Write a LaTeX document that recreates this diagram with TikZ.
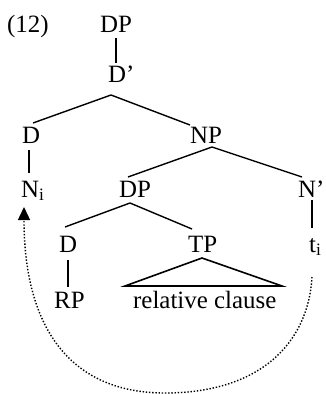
\documentclass[tikz,border=0pt]{standalone}
\usepackage{fontspec}
\setmainfont{Liberation Serif}
\usetikzlibrary{calc,arrows.meta}
\begin{document}
\begin{tikzpicture}[x=1pt,y=-1pt,
  lbl/.style={inner sep=0pt,anchor=base west,font=\fontsize{24.9}{30}\selectfont},
  edge/.style={line width=1.4pt},
  tri/.style={line width=1.6pt,line join=miter},
  move/.style={line width=1.4pt,dash pattern=on 1.4pt off 1.8pt,-{Triangle[length=13pt,width=12pt]}}]
\useasboundingbox (0,0) rectangle (325,394);
% labels
\node[lbl] (ex)   at (7,32)   {(12)};
\node[lbl] (dp1)  at (100,32) {DP};
\node[lbl] (dbar) at (108,82) {D’};
\node[lbl] (d1)   at (22,143) {D};
\node[lbl] (np)   at (190,143){NP};
\node[lbl] (ni)   at (21,197) {N\textsubscript{i}};
\node[lbl] (dp2)  at (119,197){DP};
\node[lbl] (nbar) at (298,197){N’};
\node[lbl] (d2)   at (59,252) {D};
\node[lbl] (tp)   at (188,252){TP};
\node[lbl] (ti)   at (309,252){t\textsubscript{i}};
\node[lbl] (rp)   at (54,308) {RP};
\node[lbl] (rc)   at (133,308){relative clause};
% branches
\draw[edge] ($(dp1.base west)+(16,6)$) -- ($(dbar.base west)+(8,-19)$);
\draw[edge] ($(dbar.base west)+(3,13)$) -- ($(d1.base west)+(11,-20)$);
\draw[edge] ($(dbar.base west)+(3,13)$) -- ($(np.base west)+(0,-18)$);
\draw[edge] ($(d1.base west)+(7,7)$) -- ($(ni.base west)+(8,-24)$);
\draw[edge] ($(np.base west)+(22,4)$) -- ($(dp2.base west)+(9,-20)$);
\draw[edge] ($(np.base west)+(22,4)$) -- ($(nbar.base west)+(4,-20)$);
\draw[edge] ($(dp2.base west)+(11,6)$) -- ($(d2.base west)+(6,-25)$);
\draw[edge] ($(dp2.base west)+(11,6)$) -- ($(tp.base west)+(4,-23)$);
\draw[edge] ($(nbar.base west)+(14,3)$) -- ($(ti.base west)+(3,-24)$);
\draw[edge] ($(d2.base west)+(9,8)$) -- ($(rp.base west)+(14,-21)$);
% triangle over relative clause
\draw[tri] ($(tp.base west)+(14,6)$) -- ($(rc.base west)+(149,-22)$) -- ($(rc.base west)+(-8,-22)$) -- cycle;
% movement arrow
\coordinate (bot) at (165,393);
\draw[move] ($(ti.base west)+(3,25)$) .. controls (308,345) and (258,393) .. (bot)
  .. controls (72,393) and (24,330) .. ($(ni.base west)+(3,10)$);
\end{tikzpicture}
\end{document}
